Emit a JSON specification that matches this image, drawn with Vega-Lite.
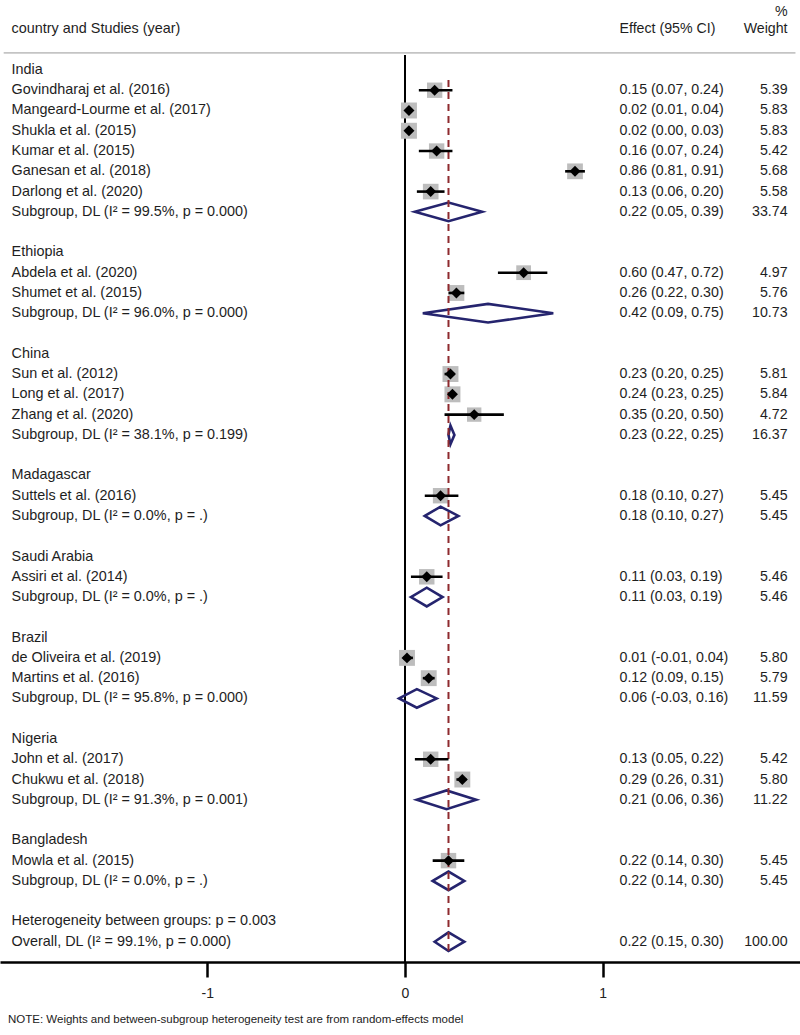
{
  "$schema": "https://vega.github.io/schema/vega-lite/v6.json",
  "width": 800,
  "height": 962,
  "padding": 0,
  "background": "white",
  "config": {"view": {"stroke": null}, "font": "Liberation Sans"},
  "title": {
    "text": "NOTE: Weights and between-subgroup heterogeneity test are from random-effects model",
    "orient": "bottom",
    "anchor": "start",
    "font": "Liberation Sans",
    "fontSize": 11.5,
    "fontWeight": "normal",
    "color": "#222222",
    "dx": 8,
    "offset": 14
  },
  "datasets": {
    "rows": [
      {"row": -2.88, "label": "", "eff": "", "wt": "%", "type": "head"},
      {"row": -2, "label": "country and Studies (year)", "eff": "Effect (95% CI)", "wt": "Weight", "type": "head"},
      {"row": 0, "label": "India", "eff": "", "wt": "", "type": "group"},
      {"row": 1, "label": "Govindharaj et al. (2016)", "est": 0.15, "lo": 0.07, "hi": 0.24, "w": 5.39, "eff": "0.15 (0.07, 0.24)", "wt": "5.39", "type": "study"},
      {"row": 2, "label": "Mangeard-Lourme et al. (2017)", "est": 0.02, "lo": 0.01, "hi": 0.04, "w": 5.83, "eff": "0.02 (0.01, 0.04)", "wt": "5.83", "type": "study"},
      {"row": 3, "label": "Shukla et al. (2015)", "est": 0.02, "lo": 0.0, "hi": 0.03, "w": 5.83, "eff": "0.02 (0.00, 0.03)", "wt": "5.83", "type": "study"},
      {"row": 4, "label": "Kumar et al. (2015)", "est": 0.16, "lo": 0.07, "hi": 0.24, "w": 5.42, "eff": "0.16 (0.07, 0.24)", "wt": "5.42", "type": "study"},
      {"row": 5, "label": "Ganesan et al. (2018)", "est": 0.86, "lo": 0.81, "hi": 0.91, "w": 5.68, "eff": "0.86 (0.81, 0.91)", "wt": "5.68", "type": "study"},
      {"row": 6, "label": "Darlong et al. (2020)", "est": 0.13, "lo": 0.06, "hi": 0.2, "w": 5.58, "eff": "0.13 (0.06, 0.20)", "wt": "5.58", "type": "study"},
      {"row": 7, "label": "Subgroup, DL (I² = 99.5%, p = 0.000)", "est": 0.22, "lo": 0.05, "hi": 0.39, "w": 33.74, "eff": "0.22 (0.05, 0.39)", "wt": "33.74", "type": "sub"},
      {"row": 9, "label": "Ethiopia", "eff": "", "wt": "", "type": "group"},
      {"row": 10, "label": "Abdela et al. (2020)", "est": 0.6, "lo": 0.47, "hi": 0.72, "w": 4.97, "eff": "0.60 (0.47, 0.72)", "wt": "4.97", "type": "study"},
      {"row": 11, "label": "Shumet et al. (2015)", "est": 0.26, "lo": 0.22, "hi": 0.3, "w": 5.76, "eff": "0.26 (0.22, 0.30)", "wt": "5.76", "type": "study"},
      {"row": 12, "label": "Subgroup, DL (I² = 96.0%, p = 0.000)", "est": 0.42, "lo": 0.09, "hi": 0.75, "w": 10.73, "eff": "0.42 (0.09, 0.75)", "wt": "10.73", "type": "sub"},
      {"row": 14, "label": "China", "eff": "", "wt": "", "type": "group"},
      {"row": 15, "label": "Sun et al. (2012)", "est": 0.23, "lo": 0.2, "hi": 0.25, "w": 5.81, "eff": "0.23 (0.20, 0.25)", "wt": "5.81", "type": "study"},
      {"row": 16, "label": "Long et al. (2017)", "est": 0.24, "lo": 0.23, "hi": 0.25, "w": 5.84, "eff": "0.24 (0.23, 0.25)", "wt": "5.84", "type": "study"},
      {"row": 17, "label": "Zhang et al. (2020)", "est": 0.35, "lo": 0.2, "hi": 0.5, "w": 4.72, "eff": "0.35 (0.20, 0.50)", "wt": "4.72", "type": "study"},
      {"row": 18, "label": "Subgroup, DL (I² = 38.1%, p = 0.199)", "est": 0.23, "lo": 0.22, "hi": 0.25, "w": 16.37, "eff": "0.23 (0.22, 0.25)", "wt": "16.37", "type": "sub"},
      {"row": 20, "label": "Madagascar", "eff": "", "wt": "", "type": "group"},
      {"row": 21, "label": "Suttels et al. (2016)", "est": 0.18, "lo": 0.1, "hi": 0.27, "w": 5.45, "eff": "0.18 (0.10, 0.27)", "wt": "5.45", "type": "study"},
      {"row": 22, "label": "Subgroup, DL (I² = 0.0%, p = .)", "est": 0.18, "lo": 0.1, "hi": 0.27, "w": 5.45, "eff": "0.18 (0.10, 0.27)", "wt": "5.45", "type": "sub"},
      {"row": 24, "label": "Saudi Arabia", "eff": "", "wt": "", "type": "group"},
      {"row": 25, "label": "Assiri et al. (2014)", "est": 0.11, "lo": 0.03, "hi": 0.19, "w": 5.46, "eff": "0.11 (0.03, 0.19)", "wt": "5.46", "type": "study"},
      {"row": 26, "label": "Subgroup, DL (I² = 0.0%, p = .)", "est": 0.11, "lo": 0.03, "hi": 0.19, "w": 5.46, "eff": "0.11 (0.03, 0.19)", "wt": "5.46", "type": "sub"},
      {"row": 28, "label": "Brazil", "eff": "", "wt": "", "type": "group"},
      {"row": 29, "label": "de Oliveira et al. (2019)", "est": 0.01, "lo": -0.01, "hi": 0.04, "w": 5.8, "eff": "0.01 (-0.01, 0.04)", "wt": "5.80", "type": "study"},
      {"row": 30, "label": "Martins et al. (2016)", "est": 0.12, "lo": 0.09, "hi": 0.15, "w": 5.79, "eff": "0.12 (0.09, 0.15)", "wt": "5.79", "type": "study"},
      {"row": 31, "label": "Subgroup, DL (I² = 95.8%, p = 0.000)", "est": 0.06, "lo": -0.03, "hi": 0.16, "w": 11.59, "eff": "0.06 (-0.03, 0.16)", "wt": "11.59", "type": "sub"},
      {"row": 33, "label": "Nigeria", "eff": "", "wt": "", "type": "group"},
      {"row": 34, "label": "John et al. (2017)", "est": 0.13, "lo": 0.05, "hi": 0.22, "w": 5.42, "eff": "0.13 (0.05, 0.22)", "wt": "5.42", "type": "study"},
      {"row": 35, "label": "Chukwu et al. (2018)", "est": 0.29, "lo": 0.26, "hi": 0.31, "w": 5.8, "eff": "0.29 (0.26, 0.31)", "wt": "5.80", "type": "study"},
      {"row": 36, "label": "Subgroup, DL (I² = 91.3%, p = 0.001)", "est": 0.21, "lo": 0.06, "hi": 0.36, "w": 11.22, "eff": "0.21 (0.06, 0.36)", "wt": "11.22", "type": "sub"},
      {"row": 38, "label": "Bangladesh", "eff": "", "wt": "", "type": "group"},
      {"row": 39, "label": "Mowla et al. (2015)", "est": 0.22, "lo": 0.14, "hi": 0.3, "w": 5.45, "eff": "0.22 (0.14, 0.30)", "wt": "5.45", "type": "study"},
      {"row": 40, "label": "Subgroup, DL (I² = 0.0%, p = .)", "est": 0.22, "lo": 0.14, "hi": 0.3, "w": 5.45, "eff": "0.22 (0.14, 0.30)", "wt": "5.45", "type": "sub"},
      {"row": 42, "label": "Heterogeneity between groups: p = 0.003", "eff": "", "wt": "", "type": "text"},
      {"row": 43, "label": "Overall, DL (I² = 99.1%, p = 0.000)", "est": 0.22, "lo": 0.15, "hi": 0.3, "w": 100, "eff": "0.22 (0.15, 0.30)", "wt": "100.00", "type": "overall"}
    ]
  },
  "data": {"name": "rows"},
  "layer": [
    {
      "transform": [{"filter": "datum.type == 'overall'"}],
      "mark": {"type": "rule", "color": "#c4c4c4", "strokeWidth": 1.6},
      "encoding": {
        "x": {
          "datum": -2.03,
          "type": "quantitative",
          "scale": {"domain": [-2.0486, 1.998], "nice": false, "zero": false},
          "axis": {
            "values": [-1, 0, 1],
            "labelExpr": "datum.value + ''",
            "title": null,
            "grid": false,
            "domainColor": "#000000",
            "domainWidth": 2.5,
            "tickColor": "#000000",
            "tickWidth": 2.5,
            "tickSize": 15,
            "labelFont": "Liberation Sans",
            "labelFontSize": 14,
            "labelColor": "#222222",
            "labelPadding": 9,
            "labelFlush": false
          }
        },
        "x2": {"datum": 1.975},
        "y": {"datum": -0.84, "type": "quantitative", "scale": {"domain": [-3.45, 44], "reverse": true, "nice": false, "zero": false}, "axis": null}
      }
    },
    {
      "transform": [{"filter": "datum.type == 'overall'"}],
      "mark": {"type": "rule", "color": "#000000", "strokeWidth": 2},
      "encoding": {
        "x": {"datum": 0, "type": "quantitative"},
        "y": {"datum": -0.74, "type": "quantitative", "axis": null},
        "y2": {"datum": 44}
      }
    },
    {
      "transform": [
        {"filter": "datum.type == 'sub' || datum.type == 'overall'"},
        {"fold": ["lo", "est", "hi"], "as": ["k", "xv"]},
        {"calculate": "datum.k == 'est' ? 0.46 : 0", "as": "dy"},
        {"calculate": "datum.row - datum.dy", "as": "yt"},
        {"calculate": "datum.row + datum.dy", "as": "yb"}
      ],
      "mark": {"type": "area", "orient": "vertical", "fillOpacity": 0, "stroke": "#25246e", "strokeWidth": 2.6, "strokeJoin": "miter"},
      "encoding": {
        "x": {"field": "xv", "type": "quantitative"},
        "y": {"field": "yt", "type": "quantitative", "axis": null},
        "y2": {"field": "yb"},
        "detail": {"field": "row"}
      }
    },
    {
      "transform": [{"filter": "datum.type == 'study'"}],
      "mark": {"type": "point", "shape": "square", "filled": true, "color": "#bdbdbd", "opacity": 1},
      "encoding": {
        "x": {"field": "est", "type": "quantitative"},
        "y": {"field": "row", "type": "quantitative", "axis": null},
        "size": {"field": "w", "type": "quantitative", "scale": {"domain": [0, 6], "range": [0, 262]}, "legend": null}
      }
    },
    {
      "transform": [{"filter": "datum.type == 'overall'"}],
      "mark": {"type": "rule", "color": "#8e2a2e", "strokeWidth": 2, "strokeDash": [7, 5]},
      "encoding": {
        "x": {"field": "est", "type": "quantitative"},
        "y": {"datum": 0.5, "type": "quantitative", "axis": null},
        "y2": {"datum": 43.45}
      }
    },
    {
      "transform": [{"filter": "datum.type == 'study'"}],
      "mark": {"type": "rule", "color": "#000000", "strokeWidth": 2.6},
      "encoding": {
        "x": {"field": "lo", "type": "quantitative"},
        "x2": {"field": "hi"},
        "y": {"field": "row", "type": "quantitative", "axis": null}
      }
    },
    {
      "transform": [{"filter": "datum.type == 'study'"}],
      "mark": {"type": "point", "shape": "diamond", "filled": true, "color": "#000000", "opacity": 1, "size": 120},
      "encoding": {
        "x": {"field": "est", "type": "quantitative"},
        "y": {"field": "row", "type": "quantitative", "axis": null}
      }
    },
    {
      "mark": {"type": "text", "align": "left", "baseline": "middle", "fontSize": 14.4, "color": "#1e1e1e"},
      "encoding": {
        "x": {"datum": -1.99, "type": "quantitative"},
        "y": {"field": "row", "type": "quantitative", "axis": null},
        "text": {"field": "label"}
      }
    },
    {
      "mark": {"type": "text", "align": "left", "baseline": "middle", "fontSize": 14.2, "color": "#1e1e1e"},
      "encoding": {
        "x": {"datum": 1.085, "type": "quantitative"},
        "y": {"field": "row", "type": "quantitative", "axis": null},
        "text": {"field": "eff"}
      }
    },
    {
      "mark": {"type": "text", "align": "right", "baseline": "middle", "fontSize": 14.2, "color": "#1e1e1e"},
      "encoding": {
        "x": {"datum": 1.935, "type": "quantitative"},
        "y": {"field": "row", "type": "quantitative", "axis": null},
        "text": {"field": "wt"}
      }
    }
  ]
}
